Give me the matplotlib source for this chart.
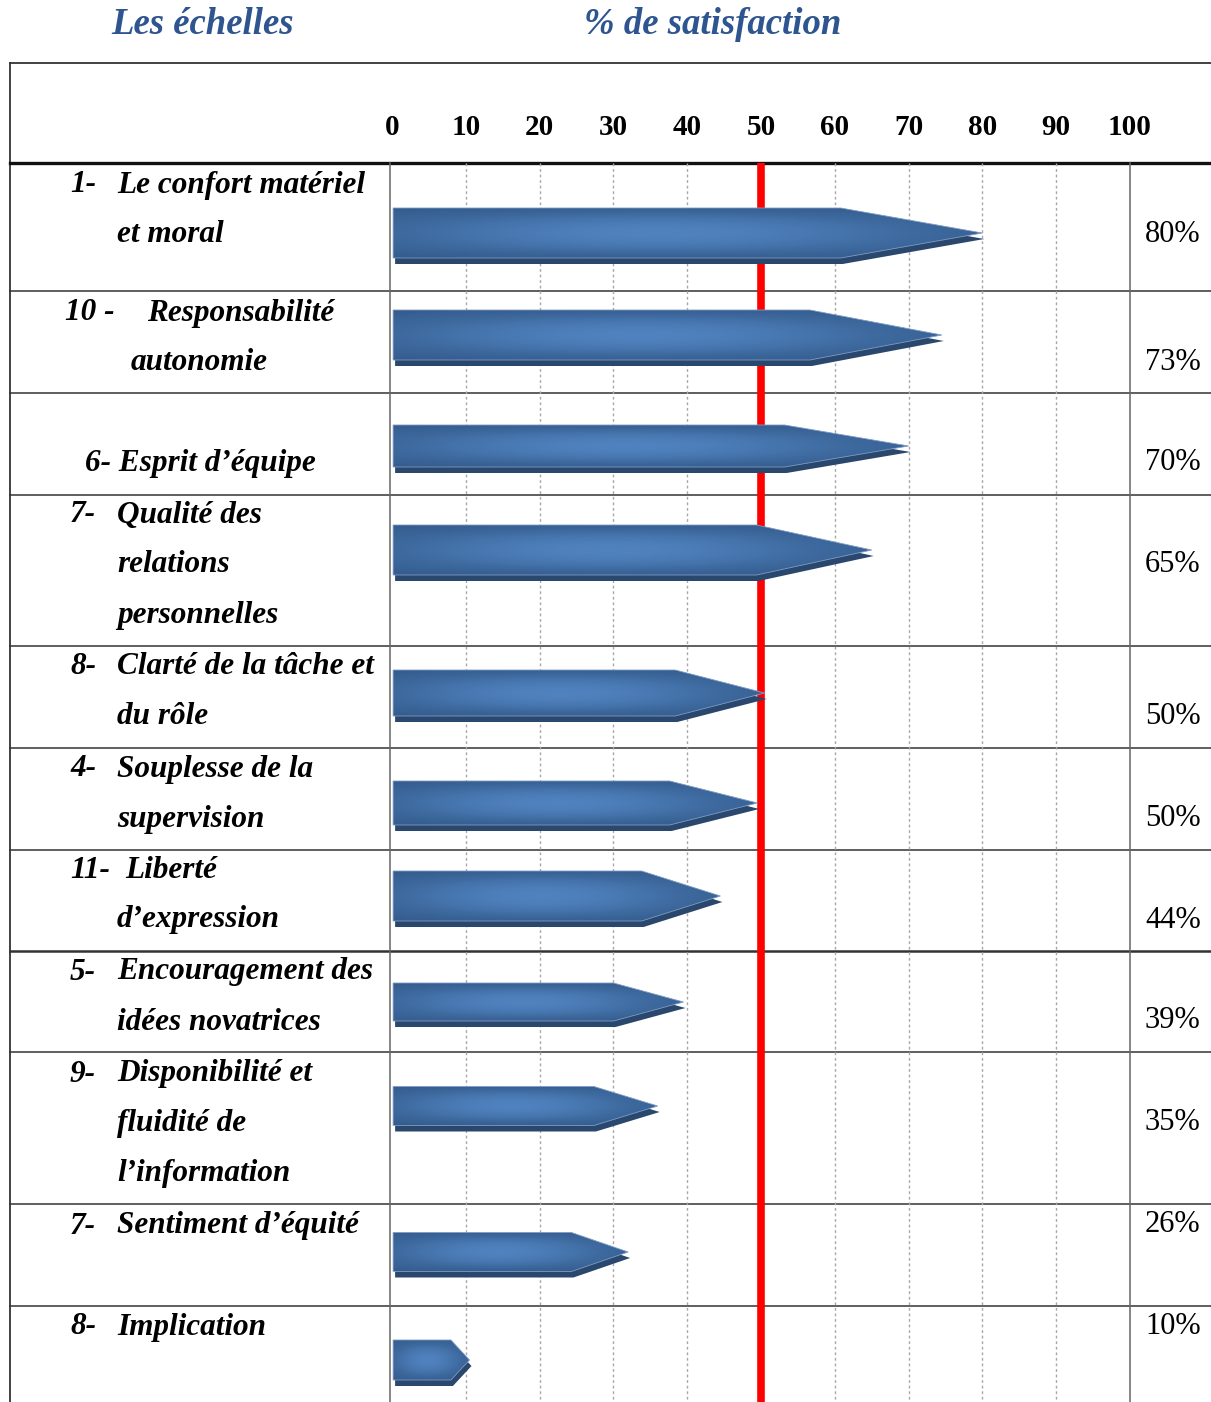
import matplotlib.pyplot as plt
import numpy as np
from matplotlib.patches import Polygon
from matplotlib.colors import LinearSegmentedColormap

# données
numeros = ["1-", "10 -", "6-", "7-", "8-", "4-", "11-", "5-", "9-", "7-", "8-"]
libelles = [
    ["Le confort matériel", "et moral"],
    ["Responsabilité", "autonomie"],
    ["Esprit d’équipe"],
    ["Qualité des", "relations", "personnelles"],
    ["Clarté de la tâche et", "du rôle"],
    ["Souplesse de la", "supervision"],
    ["Liberté", "d’expression"],
    ["Encouragement des", "idées novatrices"],
    ["Disponibilité et", "fluidité de", "l’information"],
    ["Sentiment d’équité"],
    ["Implication"],
]
pourcentages = [80, 73, 70, 65, 50, 50, 44, 39, 35, 26, 10]
longueurs = [80, 74.5, 70, 65, 50.5, 49.5, 44.5, 39.5, 36, 32, 10.5]
graduations = [0, 10, 20, 30, 40, 50, 60, 70, 80, 90, 100]
seuil = 50

# mise en page (pixels)
W, H = 1211, 1402
x0_px, x100_px = 392, 1130
lignes_y = [163, 291, 393, 495, 646, 748, 850, 951, 1052, 1204, 1306, 1402]
centres = [233, 335, 446, 550, 693, 803, 896, 1002, 1106, 1252, 1360]
epaisseurs = [50, 50, 42, 50, 46, 44, 50, 38, 39, 39, 40]
texte_y = [185, 313, 463, 515, 667, 769, 870, 972, 1074, 1226, 1327]
pct_y = [234, 362, 463, 564, 716, 818, 920, 1021, 1123, 1225, 1327]
num_x = [70, 65, 85, 70, 70, 70, 70, 70, 70, 70, 70]
lib_x = [[117, 117], [147, 131], [117], [117, 117, 117], [117, 117], [117, 117],
         [125, 117], [117, 117], [117, 117, 117], [117], [117]]
interligne = 50

serif = "Liberation Serif"
fig = plt.figure(figsize=(W / 100, H / 100), dpi=100)

lay = fig.add_axes([0, 0, 1, 1])
lay.set_xlim(0, W)
lay.set_ylim(H, 0)
lay.axis("off")

ax = fig.add_axes([x0_px / W, 0, (x100_px - x0_px) / W, (H - 163) / H])
ax.set_xlim(0, 100)
ax.set_ylim(H, 163)
for s in ax.spines.values():
    s.set_visible(False)
ax.set_yticks([])
ax.xaxis.tick_top()
ax.set_xticks(graduations)
ax.set_xticklabels([str(g) for g in graduations], fontfamily=serif,
                   fontweight="bold", fontsize=21)
ax.tick_params(axis="x", length=0, pad=16)
ax.patch.set_alpha(0)

# titres
couleur_titre = "#2E5590"
lay.text(203, 25, "Les échelles", ha="center", va="center", color=couleur_titre,
         fontfamily=serif, fontweight="bold", fontstyle="italic", fontsize=26.5)
lay.text(713, 25, "% de satisfaction", ha="center", va="center", color=couleur_titre,
         fontfamily=serif, fontweight="bold", fontstyle="italic", fontsize=26.5)

# cadre du tableau
lay.plot([10, W], [63, 63], color="#333333", lw=1.3)
lay.plot([10, 10], [63, H], color="#333333", lw=1.3)
lay.plot([10, W], [163, 163], color="#111111", lw=2.4)
for yl in lignes_y[1:-1]:
    lw = 1.8 if yl == 951 else 1.1
    lay.plot([10, W], [yl, yl], color="#333333", lw=lw)
for xl in (390, x100_px):
    lay.plot([xl, xl], [163, H], color="#666666", lw=1.1)

# grille et seuil
for g in graduations[1:-1]:
    if g != seuil:
        ax.vlines(g, 163, H, color="#A8A8A8", lw=1.0, linestyles=(0, (2, 2)), zorder=1)
ax.vlines(seuil, 163, H, color="#FF0000", lw=5.5, zorder=2)

# flèches en dégradé
cmap = LinearSegmentedColormap.from_list("bleu", ["#335A8C", "#3E6A9F", "#5082BF"])
nx, ny = 300, 60
gx = np.linspace(0, 1, nx)
gy = np.linspace(-1, 1, ny)
grad = np.exp(-((gx[None, :] - 0.45) / 0.55) ** 2) * (1 - 0.75 * gy[:, None] ** 2)

px_unit = 100 / (x100_px - x0_px)
for L, c, h in zip(longueurs, centres, epaisseurs):
    tete = 0.24 * L
    x_start = 0.15
    haut, bas = c - h / 2, c + h / 2
    verts = [(x_start, haut), (L - tete, haut), (L, c), (L - tete, bas), (x_start, bas)]
    ombre = [(x + 2 * px_unit, y + 6) for x, y in verts]
    ax.add_patch(Polygon(ombre, closed=True, facecolor="#2A476D", edgecolor="none", zorder=3))
    face = Polygon(verts, closed=True, facecolor="none", edgecolor="#7F9CC4", lw=0.6, zorder=5)
    ax.add_patch(face)
    im = ax.imshow(grad, extent=[x_start, L, bas, haut], cmap=cmap, aspect="auto",
                   interpolation="bilinear", zorder=4)
    im.set_clip_path(face)

ax.set_xlim(0, 100)
ax.set_ylim(H, 163)

# libellés
style = dict(fontfamily=serif, fontweight="bold", fontstyle="italic", fontsize=22.5,
             va="center", ha="left", color="black")
for i, (num, lignes) in enumerate(zip(numeros, libelles)):
    if i == 2:
        lay.text(num_x[i], texte_y[i], num + " " + lignes[0], **style)
        continue
    lay.text(num_x[i], texte_y[i], num, **style)
    for k, ligne in enumerate(lignes):
        lay.text(lib_x[i][k], texte_y[i] + k * interligne, ligne, **style)

for p, y in zip(pourcentages, pct_y):
    lay.text(1145, y, f"{p}%", fontfamily=serif, fontsize=22, va="center", ha="left")

fig.savefig("out.png", dpi=100)
